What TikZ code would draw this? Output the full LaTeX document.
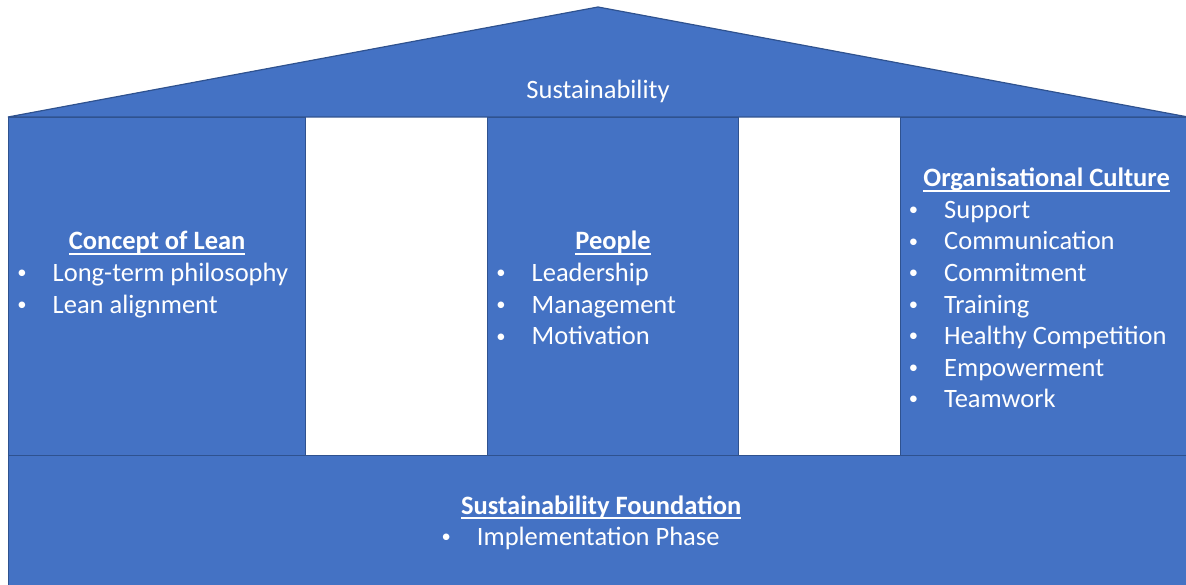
\documentclass[tikz,border=0pt]{standalone}
\usepackage{fontspec}
\setmainfont{Carlito}
\usetikzlibrary{positioning}

\definecolor{houseblue}{HTML}{4472C4}
\definecolor{houseedge}{HTML}{2F528F}

% underline at a fixed depth, crossing the descenders
\newcommand\ulined[1]{\setbox0\hbox{#1}\rlap{\rule[-0.2em]{\wd0}{0.075em}}\box0}
\newcommand\bulletmark{\llap{\raisebox{0.1em}{\scalebox{0.7}{\textbullet}}\hspace{26pt}}}

\begin{document}
\begin{tikzpicture}[
  x=1pt, y=1pt,
  font=\fontsize{26.5}{31.6}\selectfont,
  part/.style={draw=houseedge, line width=1.2pt, fill=houseblue, inner sep=0, anchor=north west},
  heading/.style={text=white, inner sep=0, anchor=base, font=\fontsize{26.5}{31.6}\selectfont\bfseries},
  item/.style={text=white, inner sep=0, anchor=base west},
  roofname/.style={text=white, inner sep=0, anchor=base}
]
\useasboundingbox (0,0) rectangle (1186,-585);
\clip (0,0) rectangle (1186,-585);

% pillars and foundation
\node[part, minimum width=297, minimum height=338] (lean) at (8,-117) {};
\node[part, minimum width=251, minimum height=338] (people) at (487,-117) {};
\node[part, minimum width=292, minimum height=338] (culture) at (900,-117) {};
\node[part, minimum width=1185, minimum height=140] (base) at (8,-455) {};

% roof
\filldraw[draw=houseedge, line width=1.2pt, fill=houseblue] (8,-117) -- (598,-7) -- (1188,-117) -- cycle;
\node[roofname] (roof) at (598,-99) {Sustainability};

% headings
\node[heading] (leanhd) at ([yshift=-132.5pt]lean.north) {\ulined{Concept of Lean}};
\node[heading] (peoplehd) at ([yshift=-132.5pt]people.north) {\ulined{People}};
\node[heading] (culturehd) at ([yshift=-70pt]culture.north) {\ulined{Organisational Culture}};
\node[heading] (basehd) at ([yshift=-59pt]base.north) {\ulined{Sustainability Foundation}};

% bullet lists
\foreach \t [count=\i] in {Long-term philosophy, Lean alignment}
  \node[item] (lean\i) at ([xshift=44.5pt, yshift={-164.5pt-31.6pt*(\i-1)}]lean.north west) {\bulletmark\t};
\foreach \t [count=\i] in {Leadership, Management, Motivation}
  \node[item] (people\i) at ([xshift=44.5pt, yshift={-164.5pt-31.6pt*(\i-1)}]people.north west) {\bulletmark\t};
\foreach \t [count=\i] in {Support, Communication, Commitment, Training, Healthy Competition, Empowerment, Teamwork}
  \node[item] (culture\i) at ([xshift=44pt, yshift={-101.5pt-31.5pt*(\i-1)}]culture.north west) {\bulletmark\t};
\node[item] (base1) at ([xshift=468.7pt, yshift=-90.5pt]base.north west) {\bulletmark Implementation Phase};
\end{tikzpicture}
\end{document}
